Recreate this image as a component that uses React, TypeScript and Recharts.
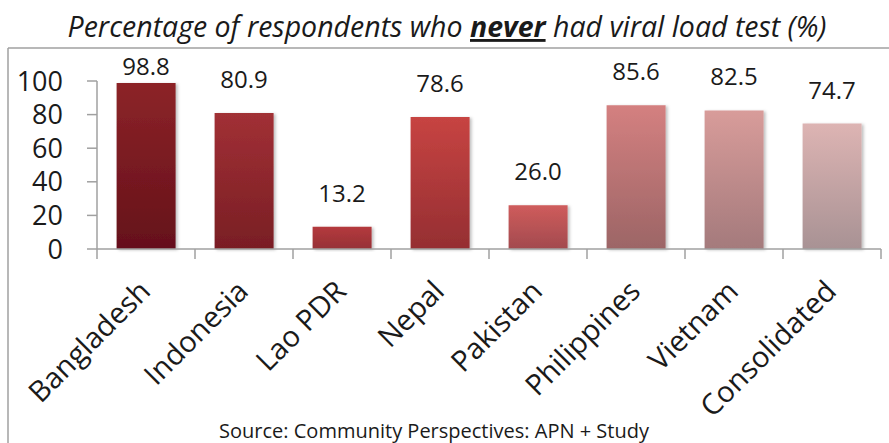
import { Bar, BarChart, Cell, LabelList, XAxis, YAxis } from 'recharts';

const countries = ['Bangladesh', 'Indonesia', 'Lao PDR', 'Nepal', 'Pakistan', 'Philippines', 'Vietnam', 'Consolidated'];
const neverTested = [98.8, 80.9, 13.2, 78.6, 26.0, 85.6, 82.5, 74.7];
const yTicks = [0, 20, 40, 60, 80, 100];

// gradient top / bottom colours per bar
const topColors = ['#8c2428', '#a13035', '#b43a3d', '#c74442', '#cf5c5c', '#d48080', '#d89c9a', '#ddb4b3'];
const bottomColors = ['#65101a', '#791e24', '#963036', '#952e32', '#a24a4e', '#9c6566', '#a47a7c', '#a89294'];

const data = countries.map((name, i) => ({ name, value: neverTested[i] }));

const W = 889;
const H = 443;
const LEFT = 97;
const RIGHT = 8;
const BAND = (W - LEFT - RIGHT) / countries.length;
const FONT = '"Open Sans", sans-serif';
const AXIS_GREY = '#a0a0a0';

const CategoryTick = (props: any) => {
  const { x, y, payload } = props;
  const half = BAND / 2;
  const last = payload.value === countries[countries.length - 1];
  return (
    <g>
      <line x1={x - half} y1={y - 10} x2={x - half} y2={y} stroke={AXIS_GREY} strokeWidth={1.5} />
      {last && <line x1={x + half} y1={y - 10} x2={x + half} y2={y} stroke={AXIS_GREY} strokeWidth={1.5} />}
      <text
        transform={`translate(${x + 6},${y + 34}) rotate(-45)`}
        textAnchor="end"
        fontFamily={FONT}
        fontSize={29}
        fill="#1a1a1a"
      >
        {payload.value}
      </text>
    </g>
  );
};

const ValueLabel = (props: any) => {
  const { x, y, width, value } = props;
  const baseline = Math.max(y - 25, 75);
  return (
    <text x={x + width / 2} y={baseline} textAnchor="middle" fontFamily={FONT} fontSize={24} fill="#1a1a1a">
      {Number(value).toFixed(1)}
    </text>
  );
};

export default function App() {
  return (
    <div style={{ position: 'relative', width: W, height: H, background: '#fff' }}>
      <style>{'body{margin:0}'}</style>
      <BarChart width={W} height={H} data={data} margin={{ top: 81, right: RIGHT, left: 0, bottom: 0 }} barCategoryGap="20%">
        <defs>
          {topColors.map((c, i) => (
            <linearGradient key={i} id={`grad${i}`} x1="0" y1="0" x2="0" y2="1">
              <stop offset="0%" stopColor={c} />
              <stop offset="100%" stopColor={bottomColors[i]} />
            </linearGradient>
          ))}
          <filter id="barShadow" x="-10%" y="-10%" width="130%" height="120%">
            <feDropShadow dx={2} dy={1} stdDeviation={1.5} floodColor="#000" floodOpacity={0.25} />
          </filter>
        </defs>
        <XAxis
          dataKey="name"
          height={194}
          interval={0}
          tickSize={10}
          tickMargin={0}
          tickLine={false}
          axisLine={{ stroke: AXIS_GREY, strokeWidth: 1.5 }}
          tick={<CategoryTick />}
        />
        <YAxis
          width={LEFT}
          domain={[0, 100]}
          ticks={yTicks}
          interval={0}
          tickSize={10}
          tickMargin={24}
          axisLine={{ stroke: AXIS_GREY, strokeWidth: 1.5 }}
          tickLine={{ stroke: AXIS_GREY, strokeWidth: 1.5 }}
          tick={{ fontFamily: FONT, fontSize: 27, fill: '#1a1a1a' }}
        />
        <Bar dataKey="value" isAnimationActive={false} filter="url(#barShadow)">
          {data.map((d, i) => (
            <Cell key={d.name} fill={`url(#grad${i})`} />
          ))}
          <LabelList dataKey="value" content={<ValueLabel />} />
        </Bar>
      </BarChart>
      <svg width={W} height={H} style={{ position: 'absolute', left: 0, top: 0, pointerEvents: 'none' }}>
        <line x1={8} y1={48} x2={W} y2={48} stroke={AXIS_GREY} strokeWidth={1.5} />
        <line x1={8} y1={48} x2={8} y2={H} stroke={AXIS_GREY} strokeWidth={1.5} />
        <text x={447} y={37} textAnchor="middle" fontFamily={FONT} fontStyle="italic" fontSize={28.5} fill="#1a1a1a">
          Percentage of respondents who{' '}
          <tspan fontWeight="bold" textDecoration="underline" style={{ textDecoration: 'underline' }}>
            never
          </tspan>{' '}
          had viral load test (%)
        </text>
        <text x={434} y={438} textAnchor="middle" fontFamily={FONT} fontSize={20} fill="#1a1a1a">
          Source: Community Perspectives: APN + Study
        </text>
      </svg>
    </div>
  );
}
